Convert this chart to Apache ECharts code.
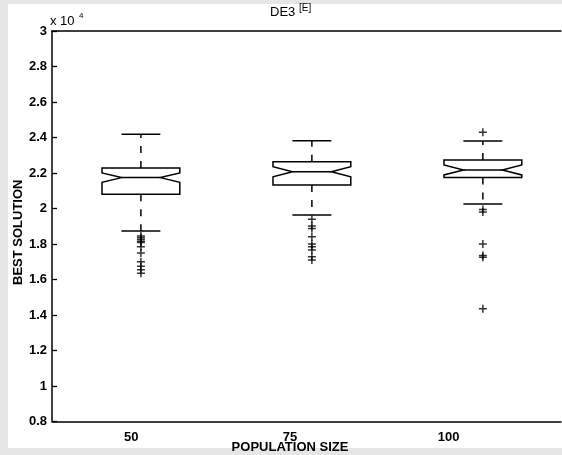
<!DOCTYPE html>
<html>
<head>
<meta charset="utf-8">
<script src="https://cdn.jsdelivr.net/npm/echarts@6/dist/echarts.min.js"></script>
<style>html,body{margin:0;padding:0;}#c{width:562px;height:455px;}</style>
</head>
<body>
<div id="c"></div>
<script>
// ---- data ----
const categories = ['50', '75', '100'];
const upperWhisker = [24190, 23820, 23800];
const q3 = [22280, 22640, 22730];
const notchHigh = [22000, 22350, 22450];
const medians = [21740, 22070, 22170];
const notchLow = [21480, 21790, 21890];
const q1 = [20800, 21320, 21740];
const lowerWhisker = [18730, 19630, 20250];
const outliers = [
  [18450, 18350, 18250, 18150, 18080, 17850, 17500, 17000, 16750, 16550, 16350],
  [19390, 19010, 18880, 18410, 18000, 17850, 17660, 17280, 17100],
  [24300, 19950, 19800, 18000, 17350, 17250, 14350]
];
const yTicks = ['0.8', '1', '1.2', '1.4', '1.6', '1.8', '2', '2.2', '2.4', '2.6', '2.8', '3'];

const FONT = 'Liberation Sans, Arial, Helvetica, sans-serif';
const INK = '#000';

const boxData = categories.map((c, i) => [i + 1, lowerWhisker[i], q1[i], notchLow[i], medians[i], notchHigh[i], q3[i], upperWhisker[i]]);
const outlierData = [];
outliers.forEach((arr, i) => arr.forEach(v => outlierData.push([i + 1, v])));

function renderBox(params, api) {
  const x = api.value(0);
  const lw = api.value(1), b1 = api.value(2), nl = api.value(3), md = api.value(4), nh = api.value(5), b3 = api.value(6), uw = api.value(7);
  const halfW = api.size([0.2275, 0])[0];
  const inset = halfW * 0.5;
  const cx = api.coord([x, md])[0];
  const Y = v => api.coord([x, v])[1];
  const L = cx - halfW, R = cx + halfW, Li = L + inset, Ri = R - inset;
  const pts = [
    [L, Y(b1)], [L, Y(nl)], [Li, Y(md)], [L, Y(nh)], [L, Y(b3)],
    [R, Y(b3)], [R, Y(nh)], [Ri, Y(md)], [R, Y(nl)], [R, Y(b1)]
  ];
  const st = { stroke: INK, lineWidth: 1.5, fill: null };
  const dash = { stroke: INK, lineWidth: 1.5, lineDash: [7, 8] };
  const capHalf = halfW / 2;
  return {
    type: 'group',
    children: [
      { type: 'polygon', shape: { points: pts }, style: { stroke: INK, lineWidth: 1.5, fill: '#fff' } },
      { type: 'line', shape: { x1: Li, y1: Y(md), x2: Ri, y2: Y(md) }, style: st },
      { type: 'line', shape: { x1: cx, y1: Y(b3), x2: cx, y2: Y(uw) }, style: dash },
      { type: 'line', shape: { x1: cx, y1: Y(b1), x2: cx, y2: Y(lw) }, style: dash },
      { type: 'line', shape: { x1: cx - capHalf, y1: Y(uw), x2: cx + capHalf, y2: Y(uw) }, style: st },
      { type: 'line', shape: { x1: cx - capHalf, y1: Y(lw), x2: cx + capHalf, y2: Y(lw) }, style: st }
    ]
  };
}

const chart = echarts.init(document.getElementById('c'), null, { renderer: 'canvas' });
const yMin = 8000, yMax = 30000;
chart.setOption({
  animation: false,
  backgroundColor: '#e6e6e6',
  textStyle: { fontFamily: FONT },
  graphic: [
    { type: 'rect', z: -10, shape: { x: 8, y: 4, width: 560, height: 444 }, style: { fill: '#fff' } },
    { type: 'text', left: 270, top: 6, style: { text: 'DE3', fontSize: 13, fontFamily: FONT, fill: INK } },
    { type: 'text', left: 299, top: 3, style: { text: '[E]', fontSize: 10, fontFamily: FONT, fill: INK } },
    { type: 'text', left: 50, top: 15, style: { text: 'x 10', fontSize: 13, fontFamily: FONT, fill: INK } },
    { type: 'text', left: 79, top: 12, style: { text: '4', fontSize: 8, fontFamily: FONT, fill: INK } }
  ],
  grid: [
    { left: 52, width: 476, top: 31, bottom: 33.5, outerBoundsMode: 'none' },
    { left: 52, right: 1, top: 31, bottom: 33.5, outerBoundsMode: 'none' }
  ],
  xAxis: [
    { gridIndex: 0, type: 'category', data: categories, position: 'bottom',
      axisLine: { show: false },
      axisTick: { inside: true, alignWithLabel: true, length: 5, lineStyle: { color: INK, width: 1.3 } },
      axisLabel: { color: INK, fontSize: 13, fontWeight: 'bold', margin: 9, fontFamily: FONT },
      name: 'POPULATION SIZE', nameLocation: 'middle', nameGap: 19, nameMoveOverlap: false,
      nameTextStyle: { color: INK, fontSize: 13, fontWeight: 'bold', fontFamily: FONT } },
    { gridIndex: 0, type: 'category', data: categories, position: 'top',
      axisLine: { show: false },
      axisTick: { inside: true, alignWithLabel: true, length: 5, lineStyle: { color: INK, width: 1.3 } },
      axisLabel: { show: false } },
    { gridIndex: 1, type: 'value', min: 0.48, max: 3.457, position: 'bottom',
      axisLine: { show: true, onZero: false, lineStyle: { color: INK, width: 1.5 } },
      axisTick: { show: false }, axisLabel: { show: false }, splitLine: { show: false } },
    { gridIndex: 1, type: 'value', min: 0.48, max: 3.457, position: 'top',
      axisLine: { show: true, onZero: false, lineStyle: { color: INK, width: 1.5 } },
      axisTick: { show: false }, axisLabel: { show: false }, splitLine: { show: false } }
  ],
  yAxis: [
    { gridIndex: 0, type: 'value', min: yMin, max: yMax, show: false },
    { gridIndex: 1, type: 'value', min: yMin, max: yMax, interval: 2000, position: 'left',
      axisLine: { show: true, lineStyle: { color: INK, width: 1.5 } },
      axisTick: { show: true, inside: true, length: 5, lineStyle: { color: INK, width: 1.3 } },
      axisLabel: { color: INK, fontSize: 13, fontWeight: 'bold', margin: 5, fontFamily: FONT,
        formatter: (v) => yTicks[Math.round((v - yMin) / 2000)] },
      splitLine: { show: false },
      name: 'BEST SOLUTION', nameLocation: 'middle', nameGap: 27, nameRotate: 90, nameMoveOverlap: false,
      nameTextStyle: { color: INK, fontSize: 13, fontWeight: 'bold', fontFamily: FONT, padding: [0, 12, 0, 0] } }
  ],
  series: [
    { type: 'custom', xAxisIndex: 2, yAxisIndex: 1, data: boxData,
      encode: { x: 0, y: [1, 2, 3, 4, 5, 6, 7] }, renderItem: renderBox, clip: false },
    { type: 'scatter', xAxisIndex: 2, yAxisIndex: 1, data: outlierData,
      symbol: 'path://M0,5L10,5M5,0L5,10', symbolSize: 8,
      itemStyle: { color: 'none', borderColor: INK, borderWidth: 1.5 } }
  ]
});
</script>
</body>
</html>
